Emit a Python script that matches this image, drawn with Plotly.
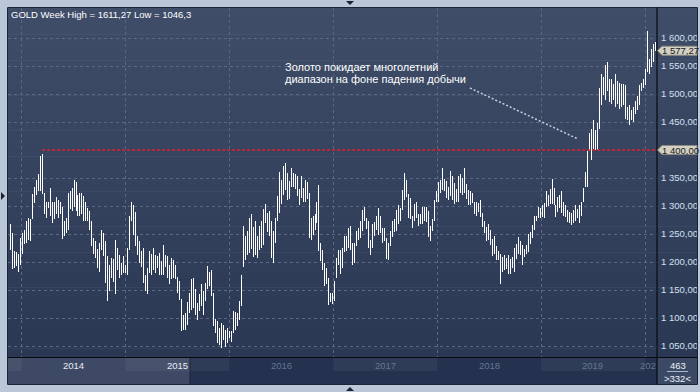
import plotly.graph_objects as go
import pandas as pd

# ---------------- data (weekly high / low) ----------------
start_date = "2013-11-22"

highs = [
    1268, 1252, 1220, 1217, 1215, 1242, 1251, 1258, 1274, 1279,
    1276, 1322, 1334, 1347, 1358, 1390, 1393, 1324, 1307, 1308,
    1332, 1307, 1308, 1316, 1310, 1307, 1299, 1274, 1279, 1324,
    1326, 1332, 1347, 1342, 1320, 1323, 1324, 1317, 1307, 1296,
    1291, 1273, 1243, 1237, 1223, 1234, 1257, 1252, 1237, 1210,
    1195, 1207, 1205, 1240, 1225, 1213, 1198, 1211, 1194, 1225,
    1283, 1308, 1301, 1289, 1247, 1238, 1220, 1225, 1176, 1189,
    1220, 1214, 1225, 1213, 1210, 1216, 1201, 1231, 1213, 1210,
    1195, 1207,
    1204, 1195, 1174, 1166, 1134, 1106, 1109, 1128, 1144, 1169,
    1172, 1151, 1127, 1142, 1160, 1148, 1163, 1192, 1182, 1185,
    1144, 1098, 1094, 1082, 1091, 1088, 1079, 1082, 1076, 1076,
    1113, 1110, 1109, 1130, 1176, 1265, 1246, 1255, 1279, 1285,
    1263, 1274, 1246, 1264, 1273, 1295, 1304, 1288, 1291, 1274,
    1255, 1279, 1317, 1360, 1346, 1372, 1376, 1359, 1344, 1368,
    1359, 1358, 1354, 1330, 1353, 1332, 1346, 1343, 1323, 1279,
    1282, 1285, 1308, 1338, 1234, 1222, 1198, 1189, 1172, 1144,
    1145, 1166,
    1207, 1221, 1222, 1225, 1246, 1246, 1261, 1265, 1234, 1234,
    1255, 1261, 1273, 1292, 1298, 1279, 1273, 1239, 1267, 1271,
    1282, 1296, 1282, 1260, 1260, 1243, 1234, 1256, 1273, 1277,
    1293, 1302, 1296, 1329, 1359, 1346, 1321, 1314, 1283, 1304,
    1308, 1285, 1286, 1299, 1298, 1298, 1291, 1264, 1277, 1310,
    1327, 1342, 1346, 1367, 1349, 1344, 1334, 1363, 1353, 1341,
    1330, 1353, 1358, 1350, 1367, 1339, 1328, 1326, 1323, 1308,
    1308, 1305, 1311, 1288, 1274, 1262, 1267, 1258, 1241, 1246,
    1228, 1219, 1215,
    1209, 1212, 1207, 1212, 1206, 1209, 1225, 1233, 1245, 1237,
    1230, 1224, 1230, 1250, 1254, 1266, 1282, 1283, 1298, 1297,
    1301, 1306, 1326, 1319, 1330, 1349, 1332, 1301, 1316, 1320,
    1326, 1308, 1301, 1292, 1289, 1288, 1292, 1302, 1295, 1301,
    1307, 1332, 1360, 1399, 1430, 1438, 1453, 1435, 1449, 1511,
    1535, 1530, 1552, 1558, 1526, 1527, 1518, 1536, 1523, 1520,
    1518, 1517, 1516, 1477, 1481, 1471, 1477, 1487, 1496, 1516,
    1520, 1527, 1545, 1612, 1563, 1580, 1590, 1593,
]

lows = [
    1221, 1188, 1189, 1192, 1182, 1194, 1215, 1232, 1234, 1240,
    1237, 1276, 1305, 1320, 1326, 1326, 1321, 1285, 1279, 1296,
    1282, 1270, 1276, 1285, 1279, 1285, 1241, 1246, 1251, 1258,
    1294, 1291, 1299, 1291, 1282, 1282, 1286, 1273, 1273, 1274,
    1257, 1228, 1214, 1207, 1189, 1182, 1222, 1210, 1163, 1131,
    1148, 1172, 1164, 1142, 1186, 1172, 1177, 1180, 1180, 1177,
    1222, 1273, 1249, 1228, 1213, 1198, 1191, 1163, 1148, 1142,
    1180, 1177, 1186, 1180, 1189, 1176, 1177, 1177, 1191, 1172,
    1161, 1170,
    1171, 1169, 1145, 1133, 1076, 1079, 1079, 1088, 1109, 1115,
    1118, 1106, 1097, 1112, 1121, 1106, 1130, 1151, 1157, 1139,
    1085, 1073, 1055, 1052, 1047, 1061, 1048, 1055, 1064, 1058,
    1073, 1079, 1085, 1097, 1121, 1191, 1204, 1213, 1216, 1223,
    1209, 1213, 1207, 1222, 1225, 1231, 1270, 1253, 1246, 1207,
    1199, 1234, 1273, 1288, 1304, 1320, 1329, 1311, 1313, 1334,
    1334, 1330, 1318, 1302, 1314, 1307, 1308, 1313, 1243, 1240,
    1249, 1258, 1270, 1219, 1201, 1186, 1157, 1160, 1124, 1128,
    1125, 1130,
    1171, 1195, 1179, 1189, 1217, 1219, 1225, 1222, 1194, 1198,
    1228, 1239, 1243, 1255, 1274, 1259, 1225, 1213, 1225, 1247,
    1258, 1249, 1252, 1234, 1237, 1205, 1204, 1228, 1245, 1253,
    1255, 1267, 1273, 1292, 1311, 1316, 1279, 1276, 1261, 1273,
    1279, 1264, 1267, 1267, 1273, 1271, 1245, 1237, 1255, 1273,
    1308, 1308, 1324, 1329, 1327, 1314, 1310, 1318, 1311, 1304,
    1308, 1307, 1323, 1320, 1323, 1313, 1302, 1301, 1305, 1285,
    1282, 1289, 1280, 1263, 1252, 1237, 1240, 1231, 1211, 1215,
    1204, 1204, 1160,
    1182, 1185, 1188, 1179, 1179, 1189, 1182, 1206, 1215, 1212,
    1195, 1209, 1215, 1217, 1233, 1242, 1258, 1274, 1278, 1279,
    1281, 1278, 1298, 1300, 1304, 1304, 1301, 1281, 1289, 1297,
    1288, 1283, 1281, 1272, 1269, 1266, 1269, 1273, 1278, 1270,
    1283, 1307, 1334, 1334, 1398, 1382, 1402, 1400, 1400, 1437,
    1480, 1498, 1489, 1505, 1486, 1483, 1489, 1477, 1483, 1474,
    1477, 1480, 1456, 1453, 1444, 1453, 1450, 1465, 1471, 1480,
    1505, 1510, 1516, 1539, 1535, 1548, 1557, 1576,
]

y_ticks = [1050, 1100, 1150, 1200, 1250, 1300, 1350, 1450, 1500, 1550, 1600]
y_tick_labels = ["1 050,00", "1 100,00", "1 150,00", "1 200,00", "1 250,00", "1 300,00",
                 "1 350,00", "1 450,00", "1 500,00", "1 550,00", "1 600,00"]
years = [2014, 2015, 2016, 2017, 2018, 2019]
year_labels = ["2014", "2015", "2016", "2017", "2018", "2019"]
tail_year_label = "202"

level_value = 1400
level_label = "1 400,00"
last_close = 1577.27
last_label = "1 577,27"
title_text = "GOLD Week High = 1611,27 Low = 1046,3"
note_lines = ["Золото покидает многолетний", "диапазон на фоне падения добычи"]
bars_total_label = "463"
bars_visible_label = ">332<"

# ---------------- figure ----------------
dates = pd.date_range(start_date, periods=len(highs), freq="7D")

xs, ys = [], []
for d, h, l in zip(dates, highs, lows):
    xs += [d, d, None]
    ys += [l, h, None]

FONT = "Liberation Sans, Arial, sans-serif"
SMALL = 9.5
W, H = 700, 392
L, R, T, B = 8, 657, 8, 357


def PX(x):
    return (x - L) / (R - L)


def PY(y):
    return (B - y) / (B - T)


ppp = 50 / 28.0  # price units per pixel

shapes = []

# gradient background of the dark panel (plot + right axis panel)
n_bands = 40
top_c = (63, 77, 104)
bot_c = (43, 56, 84)
for i in range(n_bands):
    y0 = T + (B - T) * i / n_bands
    y1 = T + (B - T) * (i + 1) / n_bands + 0.5
    f = (i + 0.5) / n_bands
    c = tuple(int(round(top_c[k] + (bot_c[k] - top_c[k]) * f)) for k in range(3))
    shapes.append(dict(type="rect", xref="paper", yref="paper",
                       x0=PX(L), x1=PX(697), y0=PY(y1), y1=PY(y0),
                       fillcolor="rgb(%d,%d,%d)" % c, line_width=0, layer="below"))

# bottom strip (time scroller)
shapes.append(dict(type="rect", xref="paper", yref="paper", x0=PX(L), x1=PX(R),
                   y0=PY(384), y1=PY(B), fillcolor="#243250", line_width=0, layer="below"))
block_edges = ["2013-01-01", "2014-01-01", "2015-01-01", "2016-01-01", "2017-01-01",
               "2018-01-01", "2019-01-01", "2020-01-01"]
for k in range(len(block_edges) - 1):
    if k % 2 == 0:
        shapes.append(dict(type="rect", xref="x", yref="paper",
                           x0=block_edges[k], x1=block_edges[k + 1],
                           y0=PY(371), y1=PY(358), fillcolor="#2e3c58",
                           line_width=0, layer="below"))
shapes.append(dict(type="rect", xref="paper", yref="paper", x0=PX(L), x1=PX(190),
                   y0=PY(384), y1=PY(B), fillcolor="rgba(255,255,255,0.12)",
                   line_width=0, layer="below"))
shapes.append(dict(type="line", xref="paper", yref="paper", x0=PX(190), x1=PX(190),
                   y0=PY(384), y1=PY(B), line=dict(color="#1a2336", width=1)))

# bottom-right counter box
shapes.append(dict(type="rect", xref="paper", yref="paper", x0=PX(R), x1=PX(697),
                   y0=PY(384), y1=PY(B), fillcolor="#3b4965", line_width=0, layer="below"))
shapes.append(dict(type="line", xref="paper", yref="paper", x0=PX(667), x1=PX(688),
                   y0=PY(371.5), y1=PY(371.5), line=dict(color="#aab6c8", width=1)))

# frame lines
shapes.append(dict(type="rect", xref="paper", yref="paper", x0=PX(7.5), x1=PX(697.5),
                   y0=PY(384.5), y1=PY(7.5), line=dict(color="#1b2436", width=1)))
shapes.append(dict(type="line", xref="paper", yref="paper", x0=PX(R), x1=PX(R),
                   y0=PY(384.5), y1=PY(7.5), line=dict(color="#080a10", width=1.2)))
shapes.append(dict(type="line", xref="paper", yref="paper", x0=PX(7.5), x1=PX(697.5),
                   y0=PY(B + 0.5), y1=PY(B + 0.5), line=dict(color="#080a10", width=1.2)))

# red level line, starting at the 2014 peak bar
peak_idx = max(range(0, 30), key=lambda i: highs[i])
shapes.append(dict(type="line", xref="x", yref="y", x0=dates[peak_idx],
                   x1=dates[-1] + pd.Timedelta(days=6), y0=level_value, y1=level_value,
                   line=dict(color="#e8202a", width=1.6, dash="3px,2px"), layer="above"))

# dotted pointer from the note to the breakout
shapes.append(dict(type="line", xref="paper", yref="paper", x0=PX(470), y0=PY(88),
                   x1=PX(578), y1=PY(139),
                   line=dict(color="#c8d0dc", width=1.5, dash="2px,2px")))

# price tags on the right axis (pentagon markers)
for val in (level_value, last_close):
    h = 4.5 * ppp
    x0, x1, x2 = PX(657.5), PX(662), PX(697)
    path = ("M {a},{y} L {b},{yt} L {c},{yt} L {c},{yb} L {b},{yb} Z"
            .format(a=x0, b=x1, c=x2, y=val, yt=val + h, yb=val - h))
    shapes.append(dict(type="path", xref="paper", yref="y", path=path,
                       fillcolor="#d3d0c5", line=dict(color="#8e8b80", width=1)))


def tri(points):
    pts = ["{},{}".format(PX(x), PY(y)) for x, y in points]
    return "M " + " L ".join(pts) + " Z"


for pts in ([(346, 1), (354, 1), (350, 5)],
            [(346, 391), (354, 391), (350, 387)],
            [(1, 192), (1, 200), (5, 196)]):
    shapes.append(dict(type="path", xref="paper", yref="paper", path=tri(pts),
                       fillcolor="#1c2230", line_width=0))

annotations = []
annotations.append(dict(xref="paper", yref="paper", x=PX(9), y=PY(15), text=title_text,
                        showarrow=False, xanchor="left", yanchor="middle",
                        font=dict(family=FONT, size=SMALL, color="#ffffff")))
for i, line in enumerate(note_lines):
    annotations.append(dict(xref="paper", yref="paper", x=PX(283), y=PY(67 + 12 * i),
                            text=line, showarrow=False, xanchor="left", yanchor="middle",
                            font=dict(family=FONT, size=11, color="#ffffff")))
for val, txt in ((level_value, level_label), (last_close, last_label)):
    annotations.append(dict(xref="paper", yref="y", x=PX(660), y=val, text=txt,
                            showarrow=False, xanchor="left", yanchor="middle",
                            font=dict(family=FONT, size=SMALL, color="#1a1a1a")))
for yr, lab in zip(years, year_labels):
    bright = yr <= 2015
    annotations.append(dict(xref="x", yref="paper", x="%d-07-02" % yr, y=PY(365.5),
                            text=lab, showarrow=False, xanchor="center", yanchor="middle",
                            font=dict(family=FONT, size=SMALL,
                                      color="#e6ecf6" if bright else "#66758f")))
annotations.append(dict(xref="paper", yref="paper", x=PX(658), y=PY(365.5),
                        text=tail_year_label, showarrow=False, xanchor="right",
                        yanchor="middle", font=dict(family=FONT, size=SMALL, color="#66758f")))
annotations.append(dict(xref="paper", yref="paper", x=PX(677.5), y=PY(365),
                        text=bars_total_label, showarrow=False, xanchor="center",
                        yanchor="middle", font=dict(family=FONT, size=SMALL, color="#eef2f8")))
annotations.append(dict(xref="paper", yref="paper", x=PX(677.5), y=PY(378),
                        text=bars_visible_label, showarrow=False, xanchor="center",
                        yanchor="middle", font=dict(family=FONT, size=SMALL, color="#eef2f8")))

fig = go.Figure()
fig.add_trace(go.Scatter(x=xs, y=ys, mode="lines", line=dict(color="#ffffff", width=1),
                         hoverinfo="skip", showlegend=False))

y_top = level_value + (150 - T) * ppp
y_bot = level_value - (B - 150) * ppp

fig.update_layout(
    width=W, height=H,
    margin=dict(l=L, r=W - R, t=T, b=H - B, pad=0, autoexpand=False),
    paper_bgcolor="#bac7d8",
    plot_bgcolor="rgba(0,0,0,0)",
    showlegend=False,
    shapes=shapes,
    annotations=annotations,
    xaxis=dict(type="date", range=[dates[0] - pd.Timedelta(days=8),
                                   dates[-1] + pd.Timedelta(days=5)],
               showgrid=True, gridcolor="#5a6884", griddash="3px,3px", gridwidth=1,
               tick0="2014-01-01", dtick="M12", showticklabels=False, ticks="",
               zeroline=False, showline=False, fixedrange=True, automargin=False),
    yaxis=dict(range=[y_bot, y_top], side="right", tickvals=y_ticks, ticktext=y_tick_labels,
               showgrid=True, gridcolor="#5a6884", griddash="3px,3px", gridwidth=1,
               ticks="", ticklabelstandoff=3, zeroline=False, showline=False,
               tickfont=dict(family=FONT, size=SMALL, color="#d4e0ee"), fixedrange=True,
               automargin=False),
)

post = ("document.body.style.margin='0';document.body.style.overflow='hidden';"
        "var s=document.createElement('style');"
        "s.innerHTML='.scatterlayer path{shape-rendering:crispEdges}';"
        "document.head.appendChild(s);")
fig.write_html("out.html", config={"displayModeBar": False}, post_script=post)
